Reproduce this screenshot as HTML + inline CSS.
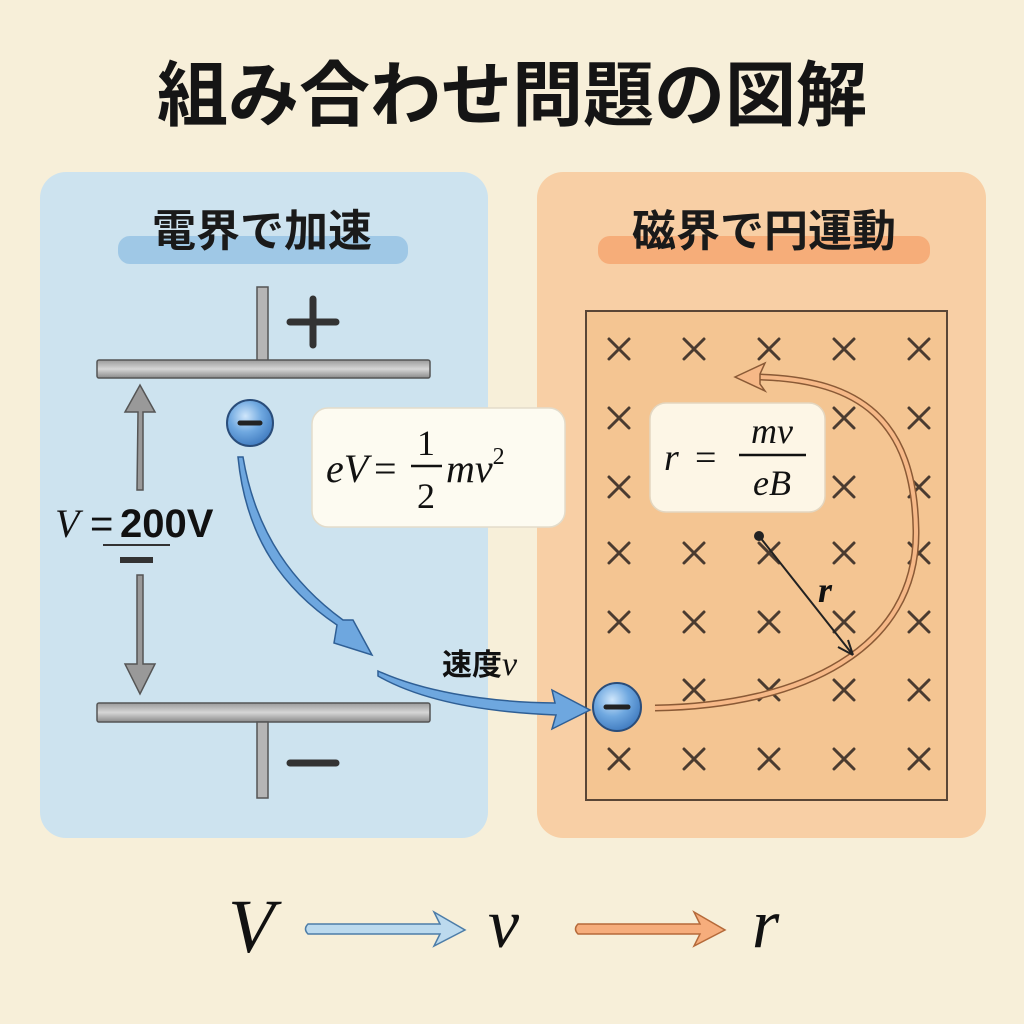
<!DOCTYPE html>
<html><head><meta charset="utf-8"><style>
html,body{margin:0;padding:0;background:#f7efd9;}
svg{display:block}
.jp{font-family:"Liberation Sans","Noto Sans CJK JP",sans-serif;font-weight:bold}
.m{font-family:"Liberation Serif","DejaVu Serif",serif;font-style:italic}
</style></head><body>
<svg width="1024" height="1024" viewBox="0 0 1024 1024" xmlns="http://www.w3.org/2000/svg">
<defs>
<linearGradient id="pl" x1="0" y1="0" x2="0" y2="1"><stop offset="0" stop-color="#9a9a9a"/><stop offset="0.5" stop-color="#d6d6d6"/><stop offset="1" stop-color="#8a8a8a"/></linearGradient>
<radialGradient id="el" cx="0.4" cy="0.35" r="0.7"><stop offset="0" stop-color="#cfe6fb"/><stop offset="0.5" stop-color="#6fa8e0"/><stop offset="1" stop-color="#3d78bd"/></radialGradient>
</defs>
<rect width="1024" height="1024" fill="#f7efd9"/>
<text x="512" y="120" text-anchor="middle" class="jp" font-size="71" fill="#151515">組み合わせ問題の図解</text>

<rect x="40" y="172" width="448" height="666" rx="26" fill="#cde3ef"/>
<rect x="537" y="172" width="449" height="666" rx="26" fill="#f8cfa5"/>
<rect x="118" y="236" width="290" height="28" rx="12" fill="#9fc8e6"/>
<rect x="598" y="236" width="332" height="28" rx="12" fill="#f6ad79"/>
<text x="262" y="246" text-anchor="middle" class="jp" font-size="44" fill="#1a1a1a">電界で加速</text>
<text x="764" y="246" text-anchor="middle" class="jp" font-size="44" fill="#1a1a1a">磁界で円運動</text>

<!-- capacitor -->
<rect x="257" y="287" width="11" height="74" fill="#b5b5b5" stroke="#555" stroke-width="1.5"/>
<rect x="97" y="360" width="333" height="18" rx="2" fill="url(#pl)" stroke="#555" stroke-width="1.5"/>
<rect x="97" y="703" width="333" height="19" rx="2" fill="url(#pl)" stroke="#555" stroke-width="1.5"/>
<rect x="257" y="722" width="11" height="76" fill="#b5b5b5" stroke="#555" stroke-width="1.5"/>
<path d="M290 322h46M313 299v46" stroke="#333" stroke-width="7" stroke-linecap="round"/>
<path d="M290 763h46" stroke="#333" stroke-width="7" stroke-linecap="round"/>
<path d="M137 490 L138 412 L125 412 L140 385 L155 412 L143 412 L143 490Z" fill="#999" stroke="#555" stroke-width="1.5"/>
<path d="M137 575 L137 664 L125 664 L140 694 L155 664 L143 664 L143 575Z" fill="#999" stroke="#555" stroke-width="1.5"/>
<text x="55" y="537" class="m" font-size="40" fill="#111">V</text>
<text x="90" y="537" font-family="Liberation Sans,sans-serif" font-size="40" fill="#111">=</text>
<text x="120" y="537" font-family="Liberation Sans,sans-serif" font-weight="bold" font-size="40" fill="#111">200V</text>
<path d="M103 545h67" stroke="#333" stroke-width="2"/>
<rect x="120" y="557" width="33" height="6" fill="#333"/>

<!-- blue arrows -->
<path d="M238 457 C246 540 285 590 337 625 L334 643 L372 655 L353 620 L343 620 C295 585 256 535 243 457Z" fill="#6ea7df" stroke="#2f5f95" stroke-width="1.5"/>
<text x="442" y="675" class="jp" font-size="30" fill="#111">速度</text>
<text x="502" y="675" class="m" font-size="34" fill="#111">v</text>

<!-- eV box -->
<rect x="312" y="408" width="253" height="119" rx="16" fill="#fdfbf1" stroke="#e3dccb" stroke-width="1.5"/>
<text x="326" y="482" class="m" font-size="40" fill="#111">eV</text>
<text x="374" y="482" font-family="Liberation Serif,serif" font-size="40" fill="#111">=</text>
<text x="426" y="455" text-anchor="middle" font-family="Liberation Serif,serif" font-size="36" fill="#111">1</text>
<path d="M411 466h31" stroke="#111" stroke-width="2.5"/>
<text x="426" y="508" text-anchor="middle" font-family="Liberation Serif,serif" font-size="36" fill="#111">2</text>
<text x="446" y="482" class="m" font-size="40" fill="#111">mv<tspan font-style="normal" font-size="24" dy="-18">2</tspan></text>

<!-- field -->
<rect x="586" y="311" width="361" height="489" fill="#f4c592" stroke="#5a4636" stroke-width="2"/>
<g stroke="#4a3b30" stroke-width="3" stroke-linecap="round">
<path id="x0" d="M-10-10L10 10M10-10L-10 10" transform="translate(619 349)"/>
<use href="#x0" x="75"/><use href="#x0" x="150"/><use href="#x0" x="225"/><use href="#x0" x="300"/>
<use href="#x0" y="69"/><use href="#x0" x="225" y="69"/><use href="#x0" x="300" y="69"/>
<use href="#x0" y="138"/><use href="#x0" x="225" y="138"/><use href="#x0" x="300" y="138"/>
<use href="#x0" y="204"/><use href="#x0" x="75" y="204"/><use href="#x0" x="150" y="204"/><use href="#x0" x="225" y="204"/><use href="#x0" x="300" y="204"/>
<use href="#x0" y="273"/><use href="#x0" x="75" y="273"/><use href="#x0" x="150" y="273"/><use href="#x0" x="225" y="273"/><use href="#x0" x="300" y="273"/>
<use href="#x0" x="75" y="341"/><use href="#x0" x="150" y="341"/><use href="#x0" x="225" y="341"/><use href="#x0" x="300" y="341"/>
<use href="#x0" y="410"/><use href="#x0" x="75" y="410"/><use href="#x0" x="150" y="410"/><use href="#x0" x="225" y="410"/><use href="#x0" x="300" y="410"/>
</g>
<!-- arc -->
<path d="M655 708 C800 706 918 650 916 530 C914 420 860 380 760 377" fill="none" stroke="#8a5a36" stroke-width="7"/>
<path d="M655 708 C800 706 918 650 916 530 C914 420 860 380 760 377" fill="none" stroke="#f6b887" stroke-width="4"/>
<path d="M735 377 L765 363 L760 374 L760 384 L765 391Z" fill="#f6b887" stroke="#8a5a36" stroke-width="1.5"/>
<circle cx="759" cy="536" r="5" fill="#222"/>
<path d="M759 536 L853 655 M853 655 L838 647 M853 655 L848 640" stroke="#222" stroke-width="2" fill="none"/>
<text x="818" y="602" class="m" font-size="36" font-weight="bold" fill="#111">r</text>
<!-- r box -->
<rect x="650" y="403" width="175" height="109" rx="16" fill="#fdf6e6" stroke="#e3d6c0" stroke-width="1.5"/>
<text x="664" y="470" class="m" font-size="38" fill="#111">r</text>
<text x="695" y="470" font-family="Liberation Serif,serif" font-size="38" fill="#111">=</text>
<text x="772" y="443" text-anchor="middle" class="m" font-size="36" fill="#111">mv</text>
<path d="M739 455h67" stroke="#111" stroke-width="2.5"/>
<text x="772" y="495" text-anchor="middle" class="m" font-size="36" fill="#111">eB</text>

<!-- second blue arrow + electrons on top -->
<path d="M378 671 C420 690 480 702 555 703 L552 690 L590 710 L552 729 L556 715 C480 712 420 700 378 676Z" fill="#6ea7df" stroke="#2f5f95" stroke-width="1.5"/>
<circle cx="250" cy="423" r="23" fill="url(#el)" stroke="#2a4d7a" stroke-width="2"/>
<path d="M240 423h20" stroke="#222" stroke-width="5" stroke-linecap="round"/>
<circle cx="617" cy="707" r="24" fill="url(#el)" stroke="#2a4d7a" stroke-width="2"/>
<path d="M606 707h22" stroke="#222" stroke-width="5" stroke-linecap="round"/>

<!-- bottom -->
<text x="228" y="952" class="m" font-size="76" fill="#111">V</text>
<path d="M308 924 L440 924 L434 912 L465 930 L434 946 L440 934 L308 934 Q303 929 308 924Z" fill="#bcdaee" stroke="#4d7da8" stroke-width="1.5"/>
<text x="488" y="947" class="m" font-size="70" fill="#111">v</text>
<path d="M578 924 L700 924 L694 912 L725 930 L694 946 L700 934 L578 934 Q573 929 578 924Z" fill="#f6ad7c" stroke="#b56a3a" stroke-width="1.5"/>
<text x="752" y="947" class="m" font-size="70" fill="#111">r</text>
</svg>
</body></html>
